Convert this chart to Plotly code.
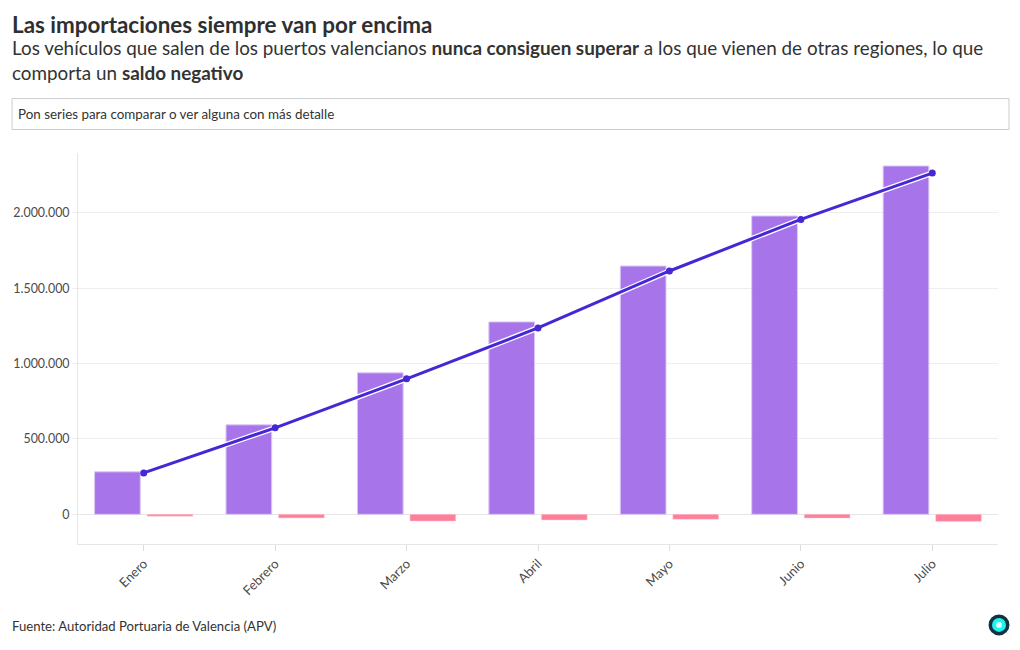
import plotly.graph_objects as go

months = ["Enero", "Febrero", "Marzo", "Abril", "Mayo", "Junio", "Julio"]
importaciones = [282000, 594000, 939000, 1277000, 1648000, 1980000, 2312000]
saldo = [-12000, -24000, -45000, -38000, -33000, -25000, -47000]
exportaciones = [275000, 574000, 899000, 1237000, 1615000, 1957000, 2265000]
y_ticks = [0, 500000, 1000000, 1500000, 2000000]
y_labels = ["0", "500.000", "1.000.000", "1.500.000", "2.000.000"]

FONT = "Lato"
W, H = 1020, 650
L, R, T, B = 77.5, 21.5, 153, 105.5


def px(x):
    return (x - L) / (W - L - R)


def py(y):
    return 1 - (y - T) / (H - T - B)


fig = go.Figure()
fig.add_bar(x=months, y=importaciones, name="Importaciones",
            marker=dict(color="#a06ae8", opacity=0.92, line=dict(color="#d9c5f6", width=1)))
fig.add_bar(x=months, y=saldo, name="Saldo",
            marker=dict(color="#ff7f9b", line=dict(color="#ffd0da", width=0.5)))
fig.add_scatter(x=months, y=exportaciones, mode="lines", showlegend=False, hoverinfo="skip",
                line=dict(color="#ffffff", width=5.5))
fig.add_scatter(x=months, y=exportaciones, mode="lines+markers", name="Exportaciones",
                line=dict(color="#4527d6", width=3), marker=dict(color="#4527d6", size=7))

fig.update_layout(
    width=W, height=H, autosize=False,
    margin=dict(l=L, r=R, t=T, b=B, autoexpand=False),
    paper_bgcolor="white", plot_bgcolor="white",
    font=dict(family=FONT, color="#4a4a4a", size=13),
    barmode="group", bargap=0.2, bargroupgap=0.13, showlegend=False,
)
fig.update_xaxes(automargin=False, tickangle=-45, ticks="outside", ticklen=6, tickcolor="#dddddd",
                 showline=True, linecolor="#e6e6e6", linewidth=1, showgrid=False,
                 tickfont=dict(size=13, color="#4a4a4a"))
fig.update_yaxes(automargin=False, range=[-197000, 2398000], tickvals=y_ticks, ticktext=y_labels,
                 ticks="outside", ticklen=5, tickcolor="#eeeeee",
                 showline=True, linecolor="#e6e6e6", linewidth=1,
                 gridcolor="#eeeeee", gridwidth=1, zeroline=True, zerolinecolor="#e6e6e6", zerolinewidth=1,
                 tickfont=dict(size=12.4, color="#4a4a4a"))


def note(x, y, text, size, color="#333333"):
    fig.add_annotation(xref="paper", yref="paper", x=px(x), y=py(y), xanchor="left", yanchor="middle",
                       text=text, showarrow=False, align="left",
                       font=dict(family=FONT, size=size, color=color))


note(9, 24.5, "<b>Las importaciones siempre van por encima</b>", 22.4, "#2f2f2f")
note(9, 47.5, "Los vehículos que salen de los puertos valencianos <b>nunca consiguen superar</b> a los que vienen de otras regiones, lo que", 18.85)
note(9, 72, "comporta un <b>saldo negativo</b>", 18.85)
note(15, 114, "Pon series para comparar o ver alguna con más detalle", 13.4, "#333333")
note(9, 627, "Fuente: Autoridad Portuaria de Valencia (APV)", 13.15, "#333333")

fig.add_shape(type="rect", xref="paper", yref="paper", x0=px(11.5), x1=px(1009.5), y0=py(98.5), y1=py(129.5),
              line=dict(color="#cccccc", width=1), fillcolor="rgba(0,0,0,0)", layer="above")
for r, color in ((10.5, "#12323f"), (7, "#1ff0f0"), (3, "#d8ffff")):
    fig.add_shape(type="circle", xref="paper", yref="paper",
                  x0=px(999.5 - r), x1=px(999.5 + r), y0=py(625.5 - r), y1=py(625.5 + r),
                  line=dict(width=0), fillcolor=color, layer="above")

fig.write_html("out.html", config={"displayModeBar": False},
               post_script="document.body.style.margin='0';")
